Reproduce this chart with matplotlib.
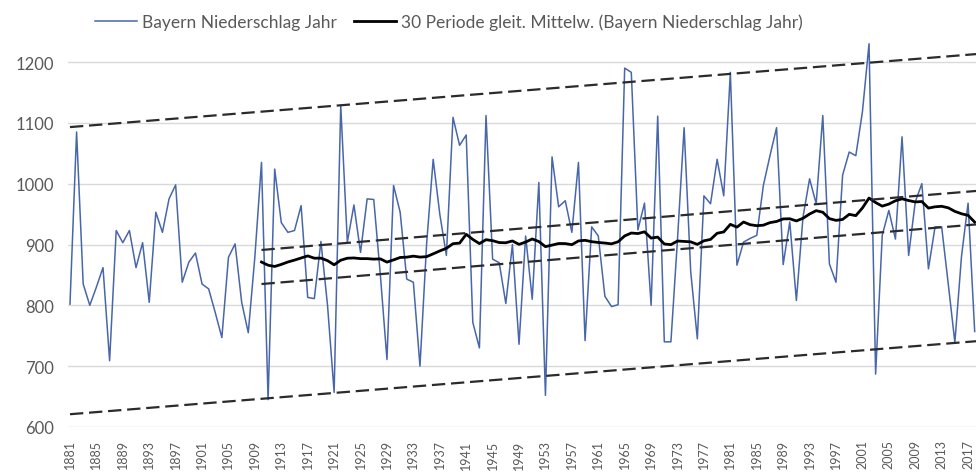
import numpy as np
import pandas as pd
import matplotlib
matplotlib.use("Agg")
import matplotlib.pyplot as plt

# Bayern annual precipitation (mm)
years = list(range(1881, 2019))
precip = [
    802, 1085, 835, 800, 830, 862, 709, 923, 903, 923,      # 1881-1890
    862, 903, 805, 953, 920, 975, 998, 838, 871, 886,       # 1891-1900
    835, 827, 788, 747, 879, 901, 805, 755, 880, 1035,      # 1901-1910
    645, 1024, 936, 920, 923, 964, 813, 811, 905, 800,      # 1911-1920
    657, 1129, 904, 965, 887, 975, 974, 850, 711, 997,      # 1921-1930
    953, 843, 838, 700, 900, 1040, 950, 882, 1109, 1063,    # 1931-1940
    1080, 772, 730, 1112, 876, 870, 803, 900, 736, 914,     # 1941-1950
    810, 1002, 652, 1044, 962, 972, 920, 1035, 742, 929,    # 1951-1960
    914, 815, 798, 801, 1190, 1183, 924, 968, 800, 1111,    # 1961-1970
    740, 740, 909, 1092, 855, 745, 980, 967, 1040, 980,     # 1971-1980
    1183, 866, 904, 910, 915, 997, 1046, 1092, 867, 937,    # 1981-1990
    808, 945, 1008, 967, 1112, 868, 838, 1014, 1052, 1046,  # 1991-2000
    1118, 1230, 687, 915, 956, 909, 1077, 882, 970, 1000,   # 2001-2010
    860, 929, 929, 835, 739, 880, 968, 757,                 # 2011-2018
]
window = 30

# hand drawn dashed channel lines: (year, value) end points
outer_upper = ([1881, 2018.2], [1093, 1213])
outer_lower = ([1881, 2018.2], [621, 741])
inner_upper = ([1910, 2018.2], [891, 988])
inner_lower = ([1910, 2018.2], [835, 933])

ytick_vals = [600, 700, 800, 900, 1000, 1100, 1200]
xtick_years = list(range(1881, 2018, 4))

label_main = "Bayern Niederschlag Jahr"
label_avg = "30 Periode gleit. Mittelw. (Bayern Niederschlag Jahr)"

df = pd.DataFrame({"year": years, "precip": precip})
df["avg"] = df["precip"].rolling(window).mean()

plt.rcParams["font.family"] = ["Lato", "DejaVu Sans"]
text_col = "#595959"
grid_col = "#d9d9d9"

fig = plt.figure(figsize=(9.76, 4.77), dpi=100)
ax = fig.add_axes([68 / 976, 1 - 428 / 477, 1 - 68 / 976, (428 - 26.5) / 477])

for v in ytick_vals:
    ax.axhline(v, color=grid_col, linewidth=1.0, zorder=0)

ax.plot(df["year"], df["precip"], color="#4866aa", linewidth=1.1, label=label_main, zorder=3)
ax.plot(df["year"], df["avg"], color="black", linewidth=2.0, label=label_avg, zorder=4)

for xs, ys in [outer_upper, outer_lower, inner_upper, inner_lower]:
    ax.plot(xs, ys, color="#2b2b2b", linewidth=1.6, dashes=(6, 2.6), zorder=5)

ax.set_xlim(1880.7, 2018.2)
ax.set_ylim(600, 1260)
ax.set_yticks(ytick_vals)
ax.set_xticks(xtick_years)
ax.set_xticklabels([str(y) for y in xtick_years], rotation=90)
ax.tick_params(axis="y", length=0, pad=10, labelsize=12, labelcolor=text_col)
ax.tick_params(axis="x", length=0, pad=9, labelsize=9, labelcolor=text_col)
for s in ax.spines.values():
    s.set_visible(False)

fig.legend(loc="center", bbox_to_anchor=(0.46, 0.952), ncol=2, frameon=False,
           fontsize=12.5, labelcolor=text_col, handlelength=2.4, handletextpad=0.3,
           columnspacing=1.0)

fig.savefig("out.png", dpi=100, facecolor="white")
